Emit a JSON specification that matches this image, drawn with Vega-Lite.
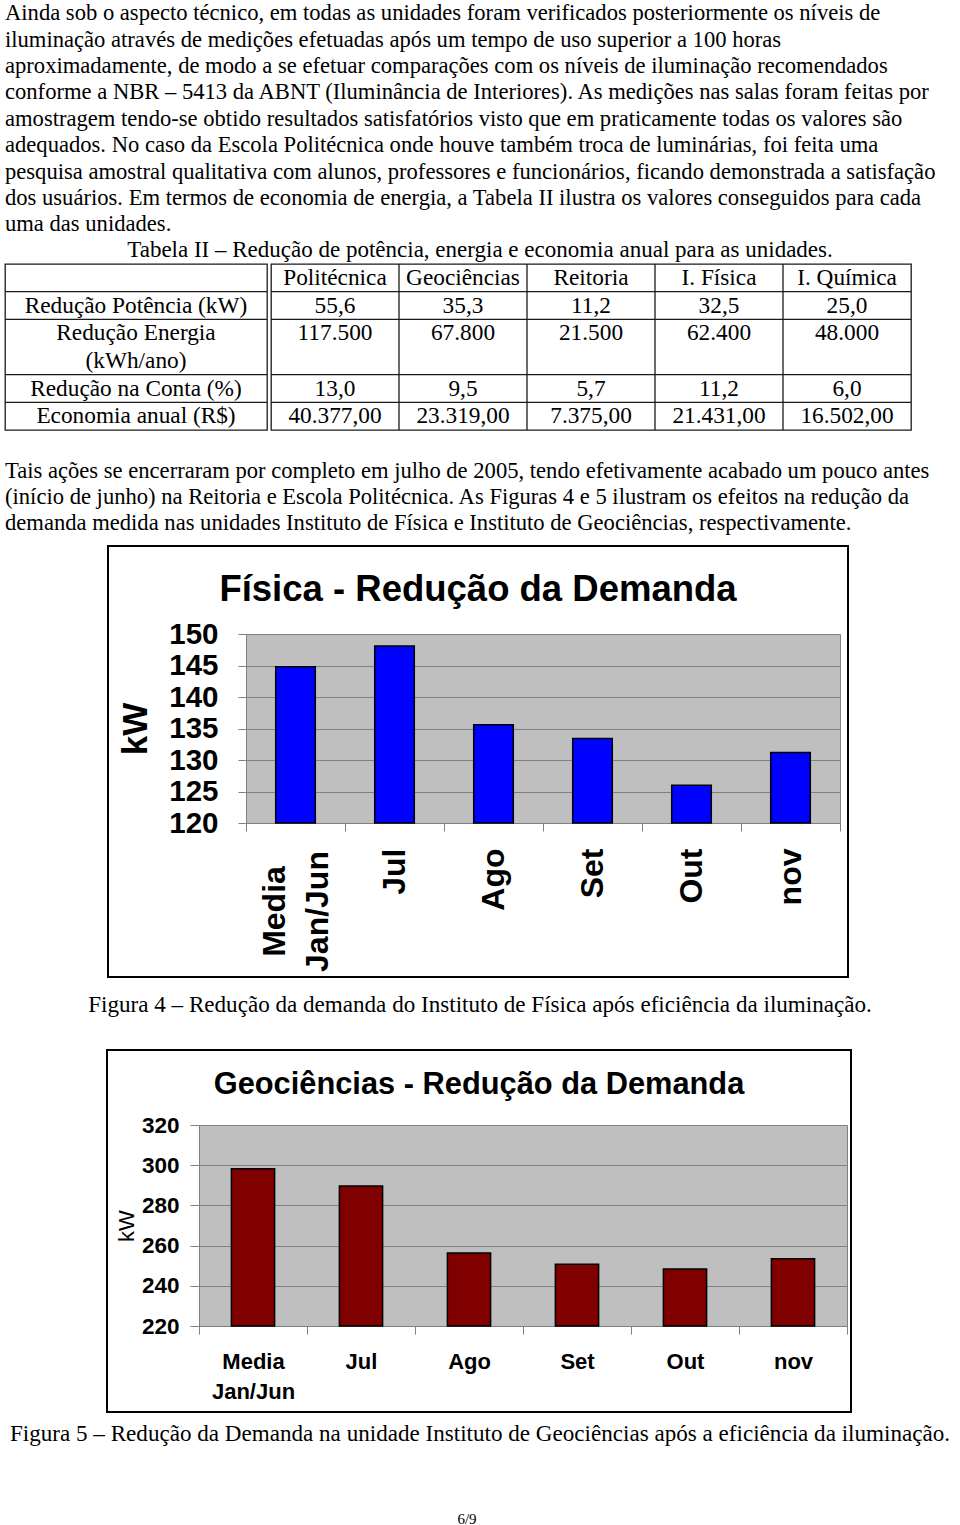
{
  "$schema": "https://vega.github.io/schema/vega-lite/v6.json",
  "background": "white",
  "padding": {"left": 3, "top": 2, "right": 0, "bottom": 0},
  "spacing": 0,
  "config": {
    "view": {"stroke": null},
    "title": {"color": "black", "fontWeight": "normal"},
    "text": {"color": "black"}
  },
  "datasets": {
    "fisica": [
      {"mes": "Media Jan/Jun", "kw": 144.8},
      {"mes": "Jul", "kw": 148.1},
      {"mes": "Ago", "kw": 135.6},
      {"mes": "Set", "kw": 133.4},
      {"mes": "Out", "kw": 126.0},
      {"mes": "nov", "kw": 131.2}
    ],
    "geociencias": [
      {"mes": "Media Jan/Jun", "kw": 298.2},
      {"mes": "Jul", "kw": 289.7},
      {"mes": "Ago", "kw": 256.3},
      {"mes": "Set", "kw": 250.7},
      {"mes": "Out", "kw": 248.4},
      {"mes": "nov", "kw": 253.5}
    ],
    "rotulos": [
      {"linha": 2, "texto": "Redução Potência (kW)"},
      {"linha": 3, "texto": "Redução Energia"},
      {"linha": 4, "texto": "(kWh/ano)"},
      {"linha": 5, "texto": "Redução na Conta (%)"},
      {"linha": 6, "texto": "Economia anual (R$)"}
    ],
    "tabela": [
      {"linha": 1, "coluna": "Politécnica", "texto": "Politécnica"},
      {"linha": 1, "coluna": "Geociências", "texto": "Geociências"},
      {"linha": 1, "coluna": "Reitoria", "texto": "Reitoria"},
      {"linha": 1, "coluna": "I. Física", "texto": "I. Física"},
      {"linha": 1, "coluna": "I. Química", "texto": "I. Química"},
      {"linha": 2, "coluna": "Politécnica", "texto": "55,6"},
      {"linha": 2, "coluna": "Geociências", "texto": "35,3"},
      {"linha": 2, "coluna": "Reitoria", "texto": "11,2"},
      {"linha": 2, "coluna": "I. Física", "texto": "32,5"},
      {"linha": 2, "coluna": "I. Química", "texto": "25,0"},
      {"linha": 3, "coluna": "Politécnica", "texto": "117.500"},
      {"linha": 3, "coluna": "Geociências", "texto": "67.800"},
      {"linha": 3, "coluna": "Reitoria", "texto": "21.500"},
      {"linha": 3, "coluna": "I. Física", "texto": "62.400"},
      {"linha": 3, "coluna": "I. Química", "texto": "48.000"},
      {"linha": 5, "coluna": "Politécnica", "texto": "13,0"},
      {"linha": 5, "coluna": "Geociências", "texto": "9,5"},
      {"linha": 5, "coluna": "Reitoria", "texto": "5,7"},
      {"linha": 5, "coluna": "I. Física", "texto": "11,2"},
      {"linha": 5, "coluna": "I. Química", "texto": "6,0"},
      {"linha": 6, "coluna": "Politécnica", "texto": "40.377,00"},
      {"linha": 6, "coluna": "Geociências", "texto": "23.319,00"},
      {"linha": 6, "coluna": "Reitoria", "texto": "7.375,00"},
      {"linha": 6, "coluna": "I. Física", "texto": "21.431,00"},
      {"linha": 6, "coluna": "I. Química", "texto": "16.502,00"}
    ]
  },
  "vconcat": [
    {
      "width": 950, "height": 3,
      "data": {"values": []}, "mark": "point",
      "title": {
        "text": [
          "Ainda sob o aspecto técnico, em todas as unidades foram verificados posteriormente os níveis de",
          "iluminação através de medições efetuadas após um tempo de uso superior a 100 horas",
          "aproximadamente, de modo a se efetuar comparações com os níveis de iluminação recomendados",
          "conforme a NBR – 5413 da ABNT (Iluminância de Interiores). As medições nas salas foram feitas por",
          "amostragem tendo-se obtido resultados satisfatórios visto que em praticamente todas os valores são",
          "adequados. No caso da Escola Politécnica onde houve também troca de luminárias, foi feita uma",
          "pesquisa amostral qualitativa com alunos, professores e funcionários, ficando demonstrada a satisfação",
          "dos usuários. Em termos de economia de energia, a Tabela II ilustra os valores conseguidos para cada",
          "uma das unidades."
        ],
        "anchor": "start", "frame": "group", "font": "Liberation Serif", "fontSize": 22.6,
        "lineHeight": 26.4, "offset": 0
      }
    },
    {
      "width": 950, "height": 1,
      "data": {"values": []}, "mark": "point",
      "title": {
        "text": "Tabela II – Redução de potência, energia e economia anual para as unidades.",
        "anchor": "middle", "frame": "group", "font": "Liberation Serif", "fontSize": 23, "offset": -5
      }
    },
    {
      "spacing": 0,
      "hconcat": [
        {
          "width": 262, "height": 166,
          "view": {"stroke": "#1a1a1a", "strokeWidth": 1.3},
          "data": {"name": "rotulos"},
          "layer": [
            {
              "mark": {"type": "text", "font": "Liberation Serif", "fontSize": 23.3, "baseline": "middle"},
              "encoding": {
                "y": {"field": "linha", "type": "ordinal", "scale": {"type": "band", "domain": [1, 2, 3, 4, 5, 6], "paddingInner": 0, "paddingOuter": 0}, "axis": null},
                "text": {"field": "texto"}
              }
            },
            {
              "transform": [{"filter": "datum.linha != 4"}],
              "mark": {"type": "rule", "color": "#1a1a1a", "strokeWidth": 1.3},
              "encoding": {
                "y": {"field": "linha", "type": "ordinal", "bandPosition": 0, "axis": null}
              }
            }
          ]
        },
        {
          "width": 640, "height": 166,
          "view": {"stroke": "#1a1a1a", "strokeWidth": 1.3},
          "data": {"name": "tabela"},
          "layer": [
            {
              "mark": {"type": "text", "font": "Liberation Serif", "fontSize": 23.3, "baseline": "middle"},
              "encoding": {
                "x": {"field": "coluna", "type": "nominal", "scale": {"type": "band", "domain": ["Politécnica", "Geociências", "Reitoria", "I. Física", "I. Química"], "paddingInner": 0, "paddingOuter": 0}, "axis": null},
                "y": {"field": "linha", "type": "ordinal", "scale": {"type": "band", "domain": [1, 2, 3, 4, 5, 6], "paddingInner": 0, "paddingOuter": 0}, "axis": null},
                "text": {"field": "texto"}
              }
            },
            {
              "transform": [{"filter": "datum.linha == 1 && datum.coluna != 'Politécnica'"}],
              "mark": {"type": "rule", "color": "#1a1a1a", "strokeWidth": 1.3},
              "encoding": {
                "x": {"field": "coluna", "type": "nominal", "bandPosition": 0, "axis": null}
              }
            },
            {
              "transform": [{"filter": "datum.coluna == 'Politécnica' && datum.linha != 1"}],
              "mark": {"type": "rule", "color": "#1a1a1a", "strokeWidth": 1.3},
              "encoding": {
                "y": {"field": "linha", "type": "ordinal", "bandPosition": 0, "axis": null}
              }
            }
          ]
        },
        {"width": 48, "height": 1, "data": {"values": []}, "mark": "point"}
      ]
    },
    {"width": 950, "height": 27, "data": {"values": []}, "mark": "point"},
    {
      "width": 950, "height": 1,
      "data": {"values": []}, "mark": "point",
      "title": {
        "text": [
          "Tais ações se encerraram por completo em julho de 2005, tendo efetivamente acabado um pouco antes",
          "(início de junho) na Reitoria e Escola Politécnica. As Figuras 4 e 5 ilustram os efeitos na redução da",
          "demanda medida nas unidades Instituto de Física e Instituto de Geociências, respectivamente."
        ],
        "anchor": "start", "frame": "group", "font": "Liberation Serif", "fontSize": 22.6,
        "lineHeight": 26.4, "offset": 9
      }
    },
    {
      "spacing": 0,
      "hconcat": [
        {"width": 86, "height": 1, "data": {"values": []}, "mark": "point"},
        {
          "width": 740, "height": 431,
          "view": {"stroke": "black", "strokeWidth": 2},
          "title": {"text": "Física - Redução da Demanda", "font": "Liberation Sans", "fontSize": 36.5, "fontWeight": "bold", "anchor": "middle", "offset": -62},
          "data": {"name": "fisica"},
          "resolve": {"axis": {"y": "independent"}},
          "encoding": {
            "x": {
              "field": "mes", "type": "nominal", "sort": null,
              "scale": {"range": [138, 732], "paddingInner": 0, "paddingOuter": 0},
              "axis": {
                "orient": "bottom", "offset": -154, "title": null, "labelAngle": -90,
                "labelFont": "Liberation Sans", "labelFontSize": 32, "labelFontWeight": "bold", "labelColor": "black",
                "labelAlign": {"condition": {"test": "datum.value == 'Media Jan/Jun'", "value": "center"}, "value": "right"},
                "labelPadding": {"condition": {"test": "datum.value == 'Media Jan/Jun'", "value": 80}, "value": 17},
                "labelOffset": {"condition": {"test": "datum.value == 'Media Jan/Jun'", "value": -21.5}, "value": 0},
                "labelLineHeight": 43, "tickBand": "extent", "tickSize": 8,
                "tickColor": "#808080", "domainColor": "#808080", "grid": false, "zindex": 0,
                "labelExpr": "datum.value == 'Media Jan/Jun' ? ['Media', 'Jan/Jun'] : datum.label"
              }
            }
          },
          "layer": [
            {
              "mark": {"type": "bar", "fill": "#808080", "fillOpacity": 0.5},
              "encoding": {
                "y": {
                  "datum": 150, "type": "quantitative",
                  "scale": {"domain": [120, 150], "range": [277, 88], "zero": false},
                  "axis": {"orient": "right", "offset": -8, "labels": false, "ticks": false, "grid": false, "domainColor": "#808080", "title": null, "zindex": 0}
                },
                "y2": {"datum": 120}
              }
            },
            {
              "mark": {"type": "bar", "fill": "#0000ff", "stroke": "black", "strokeWidth": 1.5, "width": {"band": 0.4}},
              "encoding": {
                "y": {
                  "field": "kw", "type": "quantitative",
                  "axis": {
                    "orient": "left", "offset": -138, "values": [120, 125, 130, 135, 140, 145, 150], "format": "d",
                    "labelFont": "Liberation Sans", "labelFontSize": 29.5, "labelFontWeight": "bold", "labelColor": "black",
                    "labelPadding": 20, "tickSize": 8, "tickColor": "#808080", "domainColor": "#808080",
                    "grid": true, "gridColor": "#808080", "gridOpacity": 1, "labelOverlap": false, "labelFlush": false,
                    "title": "kW", "titleFont": "Liberation Sans", "titleFontSize": 35, "titleFontWeight": "bold",
                    "titleColor": "black", "titlePadding": 15, "zindex": 0
                  }
                },
                "y2": {"datum": 120}
              }
            }
          ]
        }
      ]
    },
    {
      "width": 950, "height": 16,
      "data": {"values": []}, "mark": "point",
      "title": {
        "text": "Figura 4 – Redução da demanda do Instituto de Física após eficiência da iluminação.",
        "orient": "bottom", "anchor": "middle", "frame": "group", "font": "Liberation Serif", "fontSize": 23.1, "offset": 0
      }
    },
    {"width": 950, "height": 31, "data": {"values": []}, "mark": "point"},
    {
      "spacing": 0,
      "hconcat": [
        {"width": 101, "height": 1, "data": {"values": []}, "mark": "point"},
        {
          "width": 744, "height": 362,
          "view": {"stroke": "black", "strokeWidth": 2},
          "title": {"text": "Geociências - Redução da Demanda", "font": "Liberation Sans", "fontSize": 30.8, "fontWeight": "bold", "anchor": "middle", "offset": -51},
          "data": {"name": "geociencias"},
          "resolve": {"axis": {"y": "independent"}},
          "encoding": {
            "x": {
              "field": "mes", "type": "nominal", "sort": null,
              "scale": {"range": [92, 740], "paddingInner": 0, "paddingOuter": 0},
              "axis": {
                "orient": "bottom", "offset": -86, "title": null, "labelAngle": 0,
                "labelFont": "Liberation Sans", "labelFontSize": 22, "labelFontWeight": "bold", "labelColor": "black",
                "labelPadding": 17, "labelLineHeight": 30, "labelBaseline": "top", "tickBand": "extent", "tickSize": 8,
                "tickColor": "#808080", "domainColor": "#808080", "grid": false, "zindex": 0,
                "labelExpr": "datum.value == 'Media Jan/Jun' ? ['Media', 'Jan/Jun'] : datum.label"
              }
            }
          },
          "layer": [
            {
              "mark": {"type": "bar", "fill": "#808080", "fillOpacity": 0.5},
              "encoding": {
                "y": {
                  "datum": 320, "type": "quantitative",
                  "scale": {"domain": [220, 320], "range": [276, 75], "zero": false},
                  "axis": {"orient": "right", "offset": -4, "labels": false, "ticks": false, "grid": false, "domainColor": "#808080", "title": null, "zindex": 0}
                },
                "y2": {"datum": 220}
              }
            },
            {
              "mark": {"type": "bar", "fill": "#800000", "stroke": "black", "strokeWidth": 1.5, "width": {"band": 0.4}},
              "encoding": {
                "y": {
                  "field": "kw", "type": "quantitative",
                  "axis": {
                    "orient": "left", "offset": -92, "values": [220, 240, 260, 280, 300, 320], "format": "d",
                    "labelFont": "Liberation Sans", "labelFontSize": 22.5, "labelFontWeight": "bold", "labelColor": "black",
                    "labelPadding": 11, "tickSize": 9, "tickColor": "#808080", "domainColor": "#808080",
                    "grid": true, "gridColor": "#808080", "gridOpacity": 1, "labelOverlap": false, "labelFlush": false,
                    "title": "kW", "titleFont": "Liberation Sans", "titleFontSize": 22, "titleFontWeight": "normal",
                    "titleColor": "black", "titlePadding": 3, "zindex": 0
                  }
                },
                "y2": {"datum": 220}
              }
            }
          ]
        }
      ]
    },
    {
      "width": 950, "height": 10,
      "data": {"values": []}, "mark": "point",
      "title": {
        "text": "Figura 5 – Redução da Demanda na unidade Instituto de Geociências após a eficiência da iluminação.",
        "orient": "bottom", "anchor": "middle", "frame": "group", "font": "Liberation Serif", "fontSize": 23.1, "offset": 0
      }
    },
    {
      "width": 950, "height": 65,
      "data": {"values": []}, "mark": "point",
      "title": {
        "text": "6/9", "orient": "bottom", "anchor": "middle", "frame": "group", "font": "Liberation Serif", "fontSize": 15, "offset": 0, "dx": -13
      }
    }
  ]
}
